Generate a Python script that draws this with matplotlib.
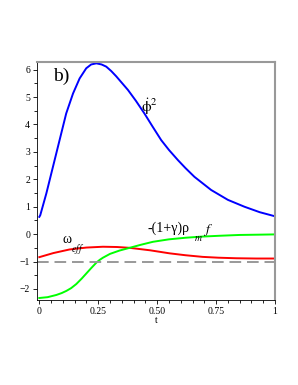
import matplotlib
matplotlib.use("Agg")
import matplotlib.pyplot as plt
from matplotlib.ticker import MultipleLocator

plt.rcParams['font.family'] = ['Liberation Serif', 'DejaVu Serif']
plt.rcParams['mathtext.fontset'] = 'stix'

# phi-dot squared (blue)
t_phi = [0.0, 0.004, 0.03, 0.058, 0.086, 0.114, 0.143, 0.171, 0.199, 0.22, 0.242, 0.264, 0.284, 0.305,
         0.326, 0.376, 0.41, 0.446, 0.48, 0.517, 0.55, 0.588, 0.62, 0.658, 0.729, 0.80, 0.87, 0.935, 1.0]
phi = [0.63, 0.69, 1.49, 2.46, 3.43, 4.40, 5.13, 5.68, 6.05, 6.19, 6.23, 6.19, 6.11, 5.95,
       5.76, 5.26, 4.86, 4.40, 3.93, 3.43, 3.07, 2.70, 2.41, 2.09, 1.61, 1.25, 1.0, 0.8, 0.65]

# omega_eff (red)
t_w = [0.0, 0.06, 0.128, 0.2, 0.27, 0.33, 0.383, 0.47, 0.552, 0.62, 0.693, 0.76, 0.835, 0.92, 1.0]
w_eff = [-0.84, -0.69, -0.56, -0.49, -0.46, -0.47, -0.50, -0.59, -0.70, -0.77, -0.83, -0.86, -0.88, -0.89, -0.89]

# -(1+gamma) rho_m f (green)
t_g = [0.0, 0.035, 0.072, 0.095, 0.115, 0.135, 0.157, 0.18, 0.2, 0.22, 0.242, 0.256, 0.27, 0.3, 0.34,
       0.383, 0.43, 0.482, 0.55, 0.623, 0.69, 0.764, 0.85, 0.93, 1.0]
g = [-2.33, -2.30, -2.22, -2.15, -2.07, -1.97, -1.82, -1.62, -1.43, -1.24, -1.04, -0.94, -0.86, -0.72, -0.60,
     -0.50, -0.39, -0.28, -0.19, -0.13, -0.09, -0.06, -0.03, -0.02, -0.01]

fig = plt.figure(figsize=(2.98, 3.85), dpi=100)
ax = fig.add_axes([0.124, 0.221, 0.799, 0.618])

ax.plot(t_phi, phi, color='#0000ff', lw=1.4)
ax.plot(t_w, w_eff, color='#ff0000', lw=1.4)
ax.plot(t_g, g, color='#00ff00', lw=1.4)
ax.axhline(-1, color='#999999', lw=1.4, dashes=(6, 3))

ax.set_xlim(-0.01, 1.0)
ax.set_ylim(-2.4, 6.28)
ax.set_xticks([0, 0.25, 0.5, 0.75, 1])
ax.set_xticklabels(['0', '0.25', '0.50', '0.75', '1'])
ax.set_yticks([-2, -1, 0, 1, 2, 3, 4, 5, 6])
ax.set_yticklabels(['\u22122', '\u22121', '0', '1', '2', '3', '4', '5', '6'])
ax.xaxis.set_minor_locator(MultipleLocator(0.05))
ax.yaxis.set_minor_locator(MultipleLocator(0.5))
ax.tick_params(labelsize=7, length=3, width=0.6, pad=2)
ax.tick_params(which='minor', length=2, width=0.6)
for s in ['top', 'right']:
    ax.spines[s].set_color('#999999')
    ax.spines[s].set_linewidth(1.5)
for s in ['left', 'bottom']:
    ax.spines[s].set_linewidth(0.6)

ax.set_xlabel('t', fontsize=7, labelpad=0)

ax.text(0.06, 5.6, 'b)', fontsize=14)
ax.text(0.43, 4.45, r'$\dot{\mathrm{\phi}}^2$', fontsize=11)
ax.text(0.1, -0.33, '\u03c9', fontsize=10)
ax.text(0.135, -0.6, r'$_{eff}$', fontsize=10)
ax.text(0.46, 0.08, '-(1+\u03b3)\u03c1', fontsize=10)
ax.text(0.655, -0.2, r'$_{m}$', fontsize=10)
ax.text(0.695, 0.05, r'$f$', fontsize=10)

fig.savefig('out.png', dpi=100)
